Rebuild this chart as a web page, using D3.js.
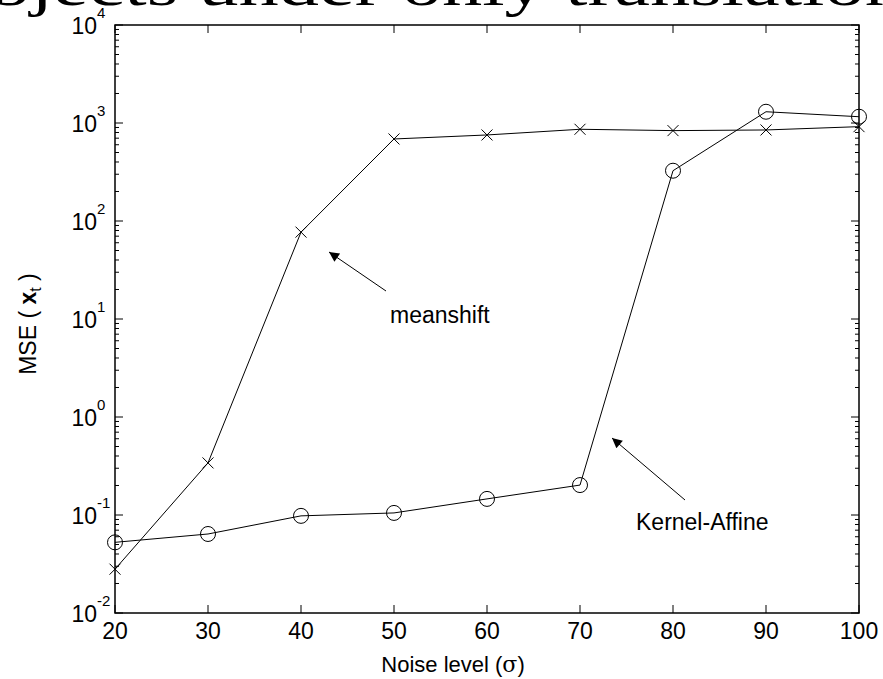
<!DOCTYPE html>
<html>
<head>
<meta charset="utf-8" />
<title>MSE vs noise</title>
<script src="https://cdn.jsdelivr.net/npm/d3@7"></script>
<style>
  body { margin: 0; background: #fff; }
  text { font-family: "Liberation Sans", Arial, sans-serif; fill: #000; }
</style>
</head>
<body>
<script>
var width = 883, height = 679;
var noise = [20, 30, 40, 50, 60, 70, 80, 90, 100];
var meanshift = [0.028, 0.34, 77, 687, 755, 863, 836, 849, 918];
var kernelAffine = [0.0526, 0.064, 0.098, 0.105, 0.146, 0.202, 326, 1303, 1159];
var xTicks = [20, 30, 40, 50, 60, 70, 80, 90, 100];
var yExps = [-2, -1, 0, 1, 2, 3, 4];

var plot = { left: 115, right: 859, top: 25, bottom: 613 };

var svg = d3.select('body').append('svg').attr('width', width).attr('height', height);

// clipped title from the page above the figure
svg.append('text')
  .attr('transform', 'translate(-68,5) scale(1.06,0.75)')
  .style('font-family', '"Liberation Serif", "Times New Roman", serif')
  .style('font-size', '76px')
  .text('Objects under only translation');

var x = d3.scaleLinear().domain([20, 100]).range([plot.left, plot.right]);
var y = d3.scaleLog().domain([1e-2, 1e4]).range([plot.bottom, plot.top]);

svg.append('rect').attr('x', plot.left).attr('y', plot.top)
  .attr('width', plot.right - plot.left).attr('height', plot.bottom - plot.top)
  .attr('fill', '#fff').attr('stroke', '#000').attr('stroke-width', 1.5);

// x ticks bottom and top
var tickG = svg.append('g').attr('stroke', '#000').attr('stroke-width', 1);
xTicks.forEach(function(t) {
  tickG.append('line').attr('x1', x(t)).attr('x2', x(t)).attr('y1', plot.bottom).attr('y2', plot.bottom - 8);
  tickG.append('line').attr('x1', x(t)).attr('x2', x(t)).attr('y1', plot.top).attr('y2', plot.top + 8);
  svg.append('text').attr('x', x(t)).attr('y', plot.bottom + 26)
    .attr('text-anchor', 'middle').style('font-size', '23px').text(t);
});

// y ticks, major and minor
yExps.forEach(function(e) {
  var v = Math.pow(10, e);
  tickG.append('line').attr('x1', plot.left).attr('x2', plot.left + 8).attr('y1', y(v)).attr('y2', y(v));
  tickG.append('line').attr('x1', plot.right).attr('x2', plot.right - 8).attr('y1', y(v)).attr('y2', y(v));
  svg.append('text').attr('x', 97).attr('y', y(v) + 9)
    .attr('text-anchor', 'end').style('font-size', '23px').text('10');
  svg.append('text').attr('x', 97).attr('y', y(v) - 7)
    .style('font-size', '15px').text(e);
  if (e < 4) {
    for (var m = 2; m <= 9; m++) {
      var mv = m * v;
      tickG.append('line').attr('x1', plot.left).attr('x2', plot.left + 4).attr('y1', y(mv)).attr('y2', y(mv));
      tickG.append('line').attr('x1', plot.right).attr('x2', plot.right - 4).attr('y1', y(mv)).attr('y2', y(mv));
    }
  }
});

var line = d3.line().x(function(d, i) { return x(noise[i]); }).y(function(d) { return y(d); });

svg.append('path').datum(meanshift).attr('d', line)
  .attr('fill', 'none').attr('stroke', '#000').attr('stroke-width', 1);
svg.append('path').datum(kernelAffine).attr('d', line)
  .attr('fill', 'none').attr('stroke', '#000').attr('stroke-width', 1);

svg.append('g').selectAll('path').data(meanshift).enter().append('path')
  .attr('d', function(d, i) {
    var cx = x(noise[i]), cy = y(d), s = 5.5;
    return 'M' + (cx - s) + ',' + (cy - s) + 'L' + (cx + s) + ',' + (cy + s) +
           'M' + (cx - s) + ',' + (cy + s) + 'L' + (cx + s) + ',' + (cy - s);
  })
  .attr('stroke', '#000').attr('stroke-width', 1);

svg.append('g').selectAll('circle').data(kernelAffine).enter().append('circle')
  .attr('cx', function(d, i) { return x(noise[i]); })
  .attr('cy', function(d) { return y(d); })
  .attr('r', 7.5).attr('fill', 'none').attr('stroke', '#000').attr('stroke-width', 1);

// annotations
svg.append('defs').append('marker').attr('id', 'ah')
  .attr('viewBox', '0 0 10 10').attr('refX', 10).attr('refY', 5)
  .attr('markerWidth', 14).attr('markerHeight', 10).attr('markerUnits', 'userSpaceOnUse')
  .attr('orient', 'auto')
  .append('path').attr('d', 'M0,0L10,5L0,10z').attr('fill', '#000');

svg.append('line').attr('x1', 386).attr('y1', 291).attr('x2', 329).attr('y2', 252)
  .attr('stroke', '#000').attr('stroke-width', 1).attr('marker-end', 'url(#ah)');
svg.append('text').attr('x', 390).attr('y', 323).style('font-size', '23px').text('meanshift');

svg.append('line').attr('x1', 685).attr('y1', 500).attr('x2', 612).attr('y2', 438)
  .attr('stroke', '#000').attr('stroke-width', 1).attr('marker-end', 'url(#ah)');
svg.append('text').attr('x', 636).attr('y', 530).style('font-size', '23px').text('Kernel-Affine');

// axis labels
svg.append('text').attr('x', 453).attr('y', 672).attr('text-anchor', 'middle')
  .style('font-size', '22px')
  .html('Noise level (<tspan style="font-family:\'DejaVu Serif\',serif">σ</tspan>)');

var yl = svg.append('text').attr('transform', 'translate(36,324) rotate(-90)')
  .attr('text-anchor', 'middle').style('font-size', '23px');
yl.append('tspan').text('MSE ( ');
yl.append('tspan').style('font-weight', 'bold').text('x');
yl.append('tspan').attr('dy', 5).style('font-size', '16px').text('t');
yl.append('tspan').attr('dy', -5).text(' )');
</script>
</body>
</html>
